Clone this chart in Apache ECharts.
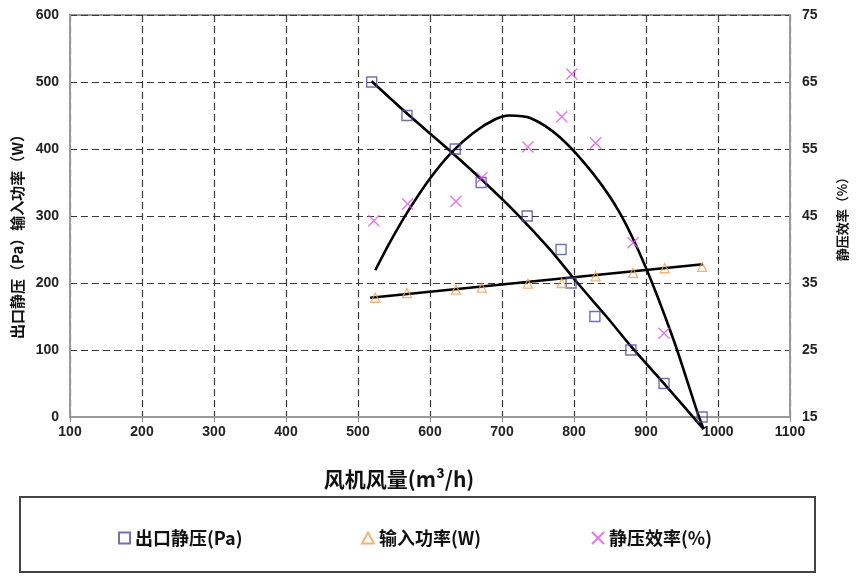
<!DOCTYPE html>
<html>
<head>
<meta charset="utf-8">
<script src="https://cdn.jsdelivr.net/npm/echarts@6/dist/echarts.min.js"></script>
<style>
  html, body { margin: 0; padding: 0; background: #fff; }
  #chart { width: 865px; height: 582px; }
</style>
</head>
<body>
<div id="chart"></div>
<script>
// 测点数据（风量 m³/h）
var pressurePoints = [[519, 500], [568, 450], [635, 400], [671, 350], [735, 300], [782, 250], [796, 200], [829, 150], [879, 100], [925, 50], [978, 0]];
var powerPoints = [[524, 178], [568, 185], [636, 190], [672, 193], [736, 199], [783, 200], [830, 210], [882, 215], [926, 222], [978, 224]];
var effPoints = [[522, 44.3], [569, 46.8], [636, 47.2], [672, 50.7], [736, 55.3], [783, 59.8], [797, 66.2], [830, 55.9], [882, 41.0], [925, 27.5]];

// 拟合曲线
var pressureFit = [[519, 501], [570, 451], [625, 400], [672, 354], [720, 304], [765, 252], [805, 200], [845, 150], [882, 102], [929, 45], [980, -18]];
var powerFit = [[517, 178], [979, 228]];
var effFit = [[524, 36.9], [545, 41.2], [570, 45.8], [600, 50.6], [630, 54.5], [660, 57.4], [690, 59.4], [710, 60.0], [740, 59.6], [780, 56.8], [826, 51.4], [864, 45.4], [899, 37.5], [938, 26.6], [972, 15.5], [980, 13.2]];

var xTicks = { min: 100, max: 1100, step: 100 };
var leftTicks = { min: 0, max: 600, step: 100 };
var rightTicks = { min: 15, max: 75, step: 10 };

var chart = echarts.init(document.getElementById('chart'));

var dashLine = { show: true, lineStyle: { color: '#3a3a3a', width: 1.2, type: [7, 4] } };
var tickText = { color: '#222', fontSize: 14, fontWeight: 'bold', fontFamily: 'Liberation Sans' };
var legendText = { color: '#111', fontSize: 18, fontWeight: 'bold', fontFamily: 'Noto Sans CJK SC' };
var crossIcon = 'path://M0,0L10,10M10,0L0,10';

var option = {
  animation: false,
  backgroundColor: '#fff',
  grid: {
    left: 70, right: 75, top: 15, bottom: 165,
    show: true, borderColor: '#999', borderWidth: 2, backgroundColor: 'transparent'
  },
  graphic: [{
    type: 'rect',
    shape: { x: 20, y: 497, width: 795, height: 75 },
    style: { fill: 'none', stroke: '#444', lineWidth: 2 },
    z: -1
  }],
  legend: [
    { left: 113, top: 524, data: ['出口静压(Pa)'], itemWidth: 11, itemHeight: 11, itemGap: 4, textStyle: legendText },
    { left: 356, top: 524, data: ['输入功率(W)'], itemWidth: 12, itemHeight: 11, itemGap: 4, textStyle: legendText },
    { left: 586, top: 524, data: ['静压效率(%)'], itemWidth: 12, itemHeight: 12, itemGap: 4, textStyle: legendText }
  ],
  xAxis: {
    type: 'value',
    min: xTicks.min, max: xTicks.max, interval: xTicks.step,
    name: '风机风量(m³/h)',
    nameLocation: 'middle',
    nameGap: 52,
    nameTextStyle: { color: '#111', fontSize: 21, fontWeight: 'bold', fontFamily: 'Noto Sans CJK SC', padding: [0, 62, 0, 0] },
    axisLine: { show: true, lineStyle: { color: '#999', width: 2 } },
    axisTick: { show: true, length: 5, lineStyle: { color: '#888' } },
    axisLabel: Object.assign({ margin: 8, formatter: function (v) { return String(v); } }, tickText),
    splitLine: dashLine
  },
  yAxis: [{
    type: 'value',
    position: 'left',
    min: leftTicks.min, max: leftTicks.max, interval: leftTicks.step,
    name: '出口静压（Pa）输入功率（W）',
    nameLocation: 'middle',
    nameRotate: 90,
    nameGap: 38,
    nameTextStyle: { color: '#111', fontSize: 15, fontWeight: 'bold', fontFamily: 'Noto Sans CJK SC', padding: [0, 34, 0, 0] },
    axisLine: { show: true, lineStyle: { color: '#999', width: 2 } },
    axisTick: { show: false },
    axisLabel: Object.assign({ margin: 11 }, tickText),
    splitLine: dashLine
  }, {
    type: 'value',
    position: 'right',
    min: rightTicks.min, max: rightTicks.max, interval: rightTicks.step,
    name: '静压效率（%）',
    nameLocation: 'middle',
    nameRotate: 90,
    nameGap: 46,
    nameTextStyle: { color: '#111', fontSize: 13, fontWeight: 'bold', fontFamily: 'Noto Sans CJK SC' },
    axisLine: { show: true, lineStyle: { color: '#999', width: 2 } },
    axisTick: { show: false },
    axisLabel: Object.assign({ margin: 12 }, tickText),
    splitLine: { show: false }
  }],
  series: [
    { // 出口静压拟合
      type: 'line', yAxisIndex: 0, data: pressureFit, smooth: 0.3, showSymbol: false, clip: false,
      lineStyle: { color: '#000', width: 2.6 }, silent: true, z: 3
    },
    { // 输入功率拟合
      type: 'line', yAxisIndex: 0, data: powerFit, showSymbol: false, clip: false,
      lineStyle: { color: '#000', width: 2.6 }, silent: true, z: 3
    },
    { // 效率拟合
      type: 'line', yAxisIndex: 1, data: effFit, smooth: 0.3, showSymbol: false, clip: false,
      lineStyle: { color: '#000', width: 2.6 }, silent: true, z: 3
    },
    {
      name: '出口静压(Pa)', type: 'scatter', yAxisIndex: 0, data: pressurePoints,
      symbol: 'rect', symbolSize: 10, clip: false,
      itemStyle: { color: 'rgba(255,255,255,0)', borderColor: '#4d4d9e', borderWidth: 1.4 }, z: 4
    },
    {
      name: '输入功率(W)', type: 'scatter', yAxisIndex: 0, data: powerPoints,
      symbol: 'triangle', symbolSize: 9,
      itemStyle: { color: 'rgba(255,255,255,0)', borderColor: '#f0a050', borderWidth: 1.3 }, z: 4
    },
    {
      name: '静压效率(%)', type: 'scatter', yAxisIndex: 1, data: effPoints,
      symbol: crossIcon, symbolSize: 11,
      itemStyle: { color: 'rgba(255,255,255,0)', borderColor: '#e055e0', borderWidth: 1.4 }, z: 4
    }
  ]
};

chart.setOption(option);
</script>
</body>
</html>
